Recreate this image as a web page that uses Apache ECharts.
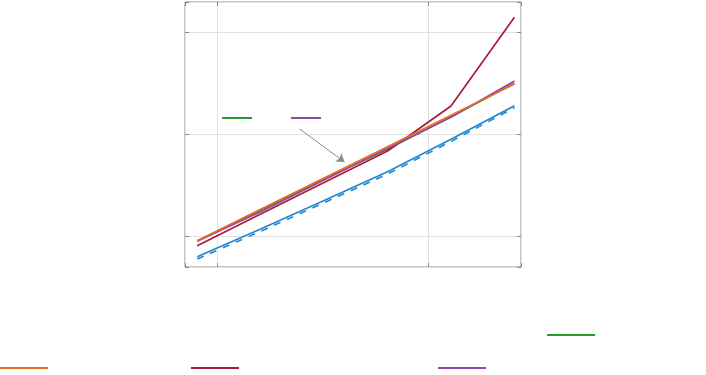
<!DOCTYPE html>
<html>
<head>
<meta charset="utf-8">
<script src="https://cdn.jsdelivr.net/npm/echarts@6/dist/echarts.min.js"></script>
<style>html,body{margin:0;padding:0;background:#fff}#c{width:706px;height:375px}</style>
</head>
<body>
<div id="c"></div>
<script>
const xValues = [8, 16, 32, 64, 128, 256];
const blueSolid = [0.627, 1.17, 2.23, 4.27, 8.87, 18.9];
const blueDashed = [0.595, 1.11, 2.12, 4.05, 8.45, 18.1];
const green = [0.893, 1.786, 3.62, 7.08, 14.77, 31.4];
const purple = [0.887, 1.73, 3.54, 7.24, 14.58, 33.1];
const red = [0.803, 1.64, 3.35, 6.81, 18.8, 139.4];
const orange = [0.899, 1.827, 3.70, 7.51, 15.25, 30.9];
const arrowFrom = [24.5, 11.2];
const arrowTo = [40.0, 5.31];

const colors = {blue:'#1f86d1', green:'#2a9a2a', purple:'#9248a8', red:'#a51d38', orange:'#ee6a20'};
function pairs(v){ return xValues.map((x,i)=>[x, v[i]]); }

const xMin = 7.0, xMax = 275, yMin = 0.4966, yMax = 196.8;
const axisCommon = {
  type:'log', logBase:10,
  axisLine:{show:false},
  axisLabel:{show:false},
  axisTick:{show:true, inside:true, length:4, lineStyle:{color:'#888'}},
  splitLine:{show:true, lineStyle:{color:'#e2e2e2', width:1}},
  minorTick:{show:false}
};

function leg(name, left, top, w){
  return {data:[name], left:left, top:top, icon:'rect', itemWidth:w, itemHeight:2,
    formatter:function(){return '';}, textStyle:{color:'#fff'}, itemGap:0, padding:0, selectedMode:false};
}

const option = {
  animation:false,
  backgroundColor:'#fff',
  grid:{left:185, right:185, top:2, bottom:108, show:true, borderColor:'#8c8c8c', borderWidth:1, backgroundColor:'transparent'},
  legend:[
    leg('Green', 222, 117, 30),
    leg('Purple', 291, 117, 30),
    leg('Green', 547, 334, 48),
    leg('Orange', 0, 367, 48),
    leg('Red', 191, 367, 48),
    leg('Purple', 438, 367, 48)
  ],
  xAxis:[
    Object.assign({}, axisCommon, {min:xMin, max:xMax, position:'bottom'}),
    Object.assign({}, axisCommon, {min:xMin, max:xMax, position:'top', splitLine:{show:false}})
  ],
  yAxis:[
    Object.assign({}, axisCommon, {min:yMin, max:yMax, position:'left'}),
    Object.assign({}, axisCommon, {min:yMin, max:yMax, position:'right', splitLine:{show:false}})
  ],
  series:[
    {name:'Blue dashed', type:'line', data:pairs(blueDashed), showSymbol:false,
      lineStyle:{color:colors.blue, width:1.6, type:[7,7]}, itemStyle:{color:colors.blue}},
    {name:'Blue', type:'line', data:pairs(blueSolid), showSymbol:false,
      lineStyle:{color:colors.blue, width:1.6}, itemStyle:{color:colors.blue}},
    {name:'Green', type:'line', data:pairs(green), showSymbol:false,
      lineStyle:{color:colors.green, width:1.7}, itemStyle:{color:colors.green}},
    {name:'Red', type:'line', data:pairs(red), showSymbol:false,
      lineStyle:{color:colors.red, width:1.7}, itemStyle:{color:colors.red}},
    {name:'Purple', type:'line', data:pairs(purple), showSymbol:false,
      lineStyle:{color:colors.purple, width:1.7}, itemStyle:{color:colors.purple}},
    {name:'Orange', type:'line', data:pairs(orange), showSymbol:false,
      lineStyle:{color:colors.orange, width:1.7}, itemStyle:{color:colors.orange},
      markLine:{silent:true, symbol:['none','arrow'], symbolSize:8, label:{show:false},
        lineStyle:{color:'#8a8a8a', width:1, type:'solid'},
        data:[[{coord:arrowFrom},{coord:arrowTo}]]}}
  ]
};
echarts.init(document.getElementById('c'), null, {renderer:'canvas'}).setOption(option);
</script>
</body>
</html>
